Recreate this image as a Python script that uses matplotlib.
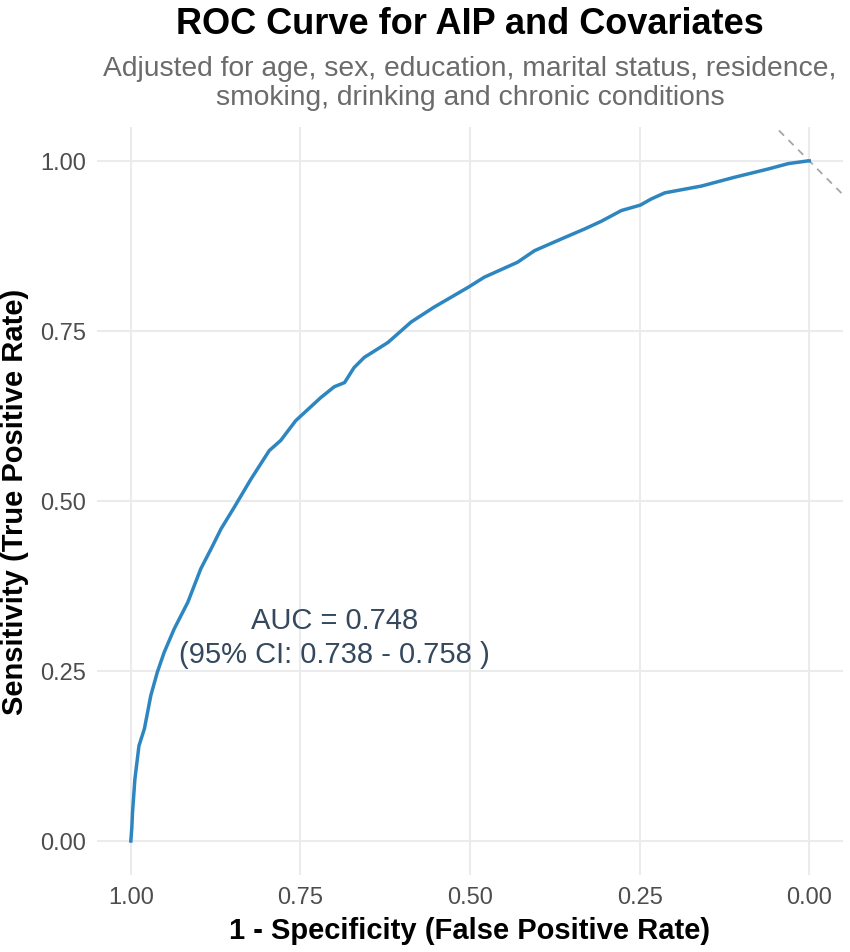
import matplotlib
matplotlib.use("Agg")
import matplotlib.pyplot as plt
import numpy as np

plt.rcParams['font.family'] = ['Liberation Sans', 'DejaVu Sans']

# ROC points (specificity, sensitivity)
specificity = [1.000, 0.9985, 0.9975, 0.994, 0.988, 0.980, 0.9705, 0.961, 0.951, 0.936,
               0.916, 0.897, 0.882, 0.867, 0.848, 0.823, 0.796, 0.779, 0.757, 0.720,
               0.700, 0.685, 0.671, 0.656, 0.621, 0.587, 0.553, 0.503, 0.479, 0.430,
               0.405, 0.366, 0.331, 0.307, 0.277, 0.249, 0.233, 0.213, 0.159, 0.110,
               0.061, 0.031, 0.002, 0.000]
sensitivity = [0.000, 0.020, 0.042, 0.091, 0.140, 0.165, 0.214, 0.248, 0.277, 0.312,
               0.351, 0.400, 0.429, 0.459, 0.490, 0.532, 0.574, 0.589, 0.618, 0.652,
               0.668, 0.674, 0.696, 0.711, 0.733, 0.763, 0.785, 0.814, 0.829, 0.851,
               0.868, 0.885, 0.900, 0.911, 0.927, 0.935, 0.944, 0.953, 0.963, 0.976,
               0.988, 0.996, 1.000, 1.000]
ticks = [0.00, 0.25, 0.50, 0.75, 1.00]
tick_labels = ['0.00', '0.25', '0.50', '0.75', '1.00']
auc = 0.748
ci_low, ci_high = 0.738, 0.758

fig = plt.figure(figsize=(8.5, 9.53), dpi=100)
ax = fig.add_axes([0.114, 0.0808, 0.878, 0.785])

ax.plot(specificity, sensitivity, color='#2E86C1', lw=2.5, zorder=3,
        solid_joinstyle='round')
# reference diagonal (intercept 1, slope 1 in specificity space)
xs = np.array([-0.1, 1.1])
ax.plot(xs, 1 + xs, color='#A6A6A6', lw=1.3, ls=(0, (4, 3.5)), zorder=2)

ax.text(0.70, 0.30, 'AUC = %.3f\n(95%% CI: %.3f - %.3f )' % (auc, ci_low, ci_high),
        ha='center', va='center', fontsize=21, color='#34495E', linespacing=1.25)

ax.set_xlim(1.05, -0.05)
ax.set_ylim(-0.05, 1.05)
ax.set_xticks(ticks)
ax.set_xticklabels(tick_labels)
ax.set_yticks(ticks)
ax.set_yticklabels(tick_labels)
ax.tick_params(length=0, labelsize=17, labelcolor='#4D4D4D', pad=8)
ax.grid(True, color='#EBEBEB', lw=1.5)
ax.set_axisbelow(True)
for s in ax.spines.values():
    s.set_visible(False)

ax.set_xlabel('1 - Specificity (False Positive Rate)', fontsize=21, fontweight='bold', labelpad=6)
ax.set_ylabel('Sensitivity (True Positive Rate)', fontsize=21, fontweight='bold', labelpad=8)

cx = 0.553
fig.text(cx, 0.974, 'ROC Curve for AIP and Covariates', ha='center', va='center',
         fontsize=26, fontweight='bold', color='black')
fig.text(cx, 0.912, 'Adjusted for age, sex, education, marital status, residence,\nsmoking, drinking and chronic conditions',
         ha='center', va='center', fontsize=20.3, color='#6B6B6B', linespacing=1.15)

fig.savefig('out.png', dpi=100, facecolor='white')
